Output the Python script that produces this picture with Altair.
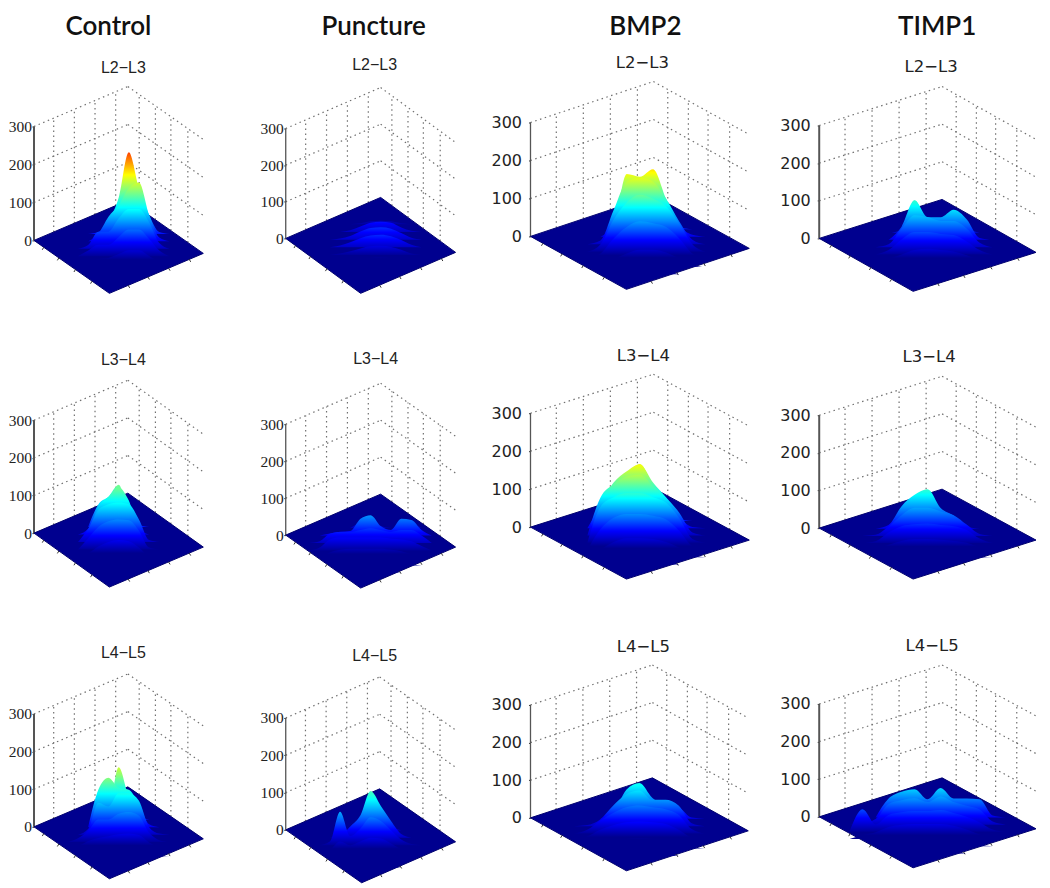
import altair as alt
import pandas as pd

GROUPS = ["Control", "Puncture", "BMP2", "TIMP1"]
LEVELS = ["L2−L3", "L3−L4", "L4−L5"]
Z_TICKS = [0, 100, 200, 300]
COLOR_MAX = 320

# position across the floor (fraction of its width) and depth (back to front)
ACROSS = [0.20, 0.26, 0.32, 0.38, 0.44, 0.50, 0.56, 0.62, 0.68, 0.74, 0.80]
DEPTH = [0.28, 0.36, 0.44, 0.52, 0.60, 0.68, 0.76, 0.84]

# Heights read from each surface: one row per depth, one value per ACROSS entry
CONTROL_L23 = [
    [0,0,0,0,0,5,10,10,5,0,0],
    [0,0,0,5,35,95,215,120,50,5,0],
    [0,0,0,20,65,95,140,155,70,10,0],
    [0,0,10,45,45,80,105,105,70,15,0],
    [0,0,15,30,30,50,70,70,45,15,0],
    [0,0,5,12,15,25,35,35,20,5,0],
    [0,0,0,3,5,8,12,12,5,0,0],
    [0,0,0,0,0,0,0,0,0,0,0],
]
CONTROL_L34 = [
    [0,0,0,0,0,0,5,0,0,0,0],
    [0,0,0,60,80,112,35,5,0,0,0],
    [0,0,15,75,100,125,90,15,0,0,0],
    [0,0,35,85,100,105,100,60,5,0,0],
    [0,0,30,60,75,80,78,50,5,0,0],
    [0,0,10,28,40,45,42,25,3,0,0],
    [0,0,0,6,12,14,12,5,0,0,0],
    [0,0,0,0,0,0,0,0,0,0,0],
]
CONTROL_L45 = [
    [0,0,0,0,0,0,0,0,0,0,0],
    [0,0,0,0,20,140,60,10,0,0,0],
    [0,0,0,100,132,105,100,60,8,0,0],
    [0,0,15,85,75,110,110,90,20,3,0],
    [0,10,30,60,60,75,80,70,25,5,0],
    [0,8,22,30,35,40,42,38,18,5,0],
    [0,0,6,10,12,15,15,12,6,2,0],
    [0,0,0,0,0,0,0,0,0,0,0],
]
PUNCTURE_L23 = [
    [0,0,0,0,3,8,10,8,3,0,0],
    [0,0,0,5,15,25,28,25,12,3,0],
    [0,0,3,10,22,32,34,30,18,5,0],
    [0,0,5,14,25,32,34,30,20,7,0],
    [0,0,4,10,18,24,25,22,14,4,0],
    [0,0,0,5,9,13,14,12,7,2,0],
    [0,0,0,0,3,5,5,4,2,0,0],
    [0,0,0,0,0,0,0,0,0,0,0],
]
PUNCTURE_L34 = [
    [0,0,0,0,0,0,0,0,0,0,0],
    [0,0,0,0,15,25,5,0,0,10,0],
    [0,5,10,12,45,55,25,15,45,42,15],
    [5,25,30,30,35,40,35,30,35,35,20],
    [8,30,35,35,35,35,35,32,30,25,12],
    [0,15,22,25,25,25,25,22,18,10,3],
    [0,0,8,10,12,12,12,10,6,3,0],
    [0,0,0,2,3,4,4,3,0,0,0],
]
PUNCTURE_L45 = [
    [0,0,0,0,0,0,0,0,0,0,0],
    [0,0,0,0,0,5,3,0,0,0,0],
    [0,0,0,0,15,60,40,5,0,0,0],
    [0,0,5,30,60,125,85,45,10,0,0],
    [0,10,90,25,45,75,65,40,15,3,0],
    [0,8,30,20,30,40,38,25,10,3,0],
    [0,0,10,10,15,18,18,12,5,0,0],
    [0,0,0,3,5,6,6,4,0,0,0],
]
BMP2_L23 = [
    [0,0,0,0,0,5,10,5,0,0,0],
    [0,0,0,0,40,90,110,40,5,0,0],
    [0,0,0,30,165,158,178,100,30,5,0],
    [0,0,10,90,165,175,165,120,60,12,0],
    [0,0,20,85,130,150,140,120,75,20,0],
    [0,0,15,55,85,100,95,85,55,15,0],
    [0,0,5,20,35,45,45,38,22,5,0],
    [0,0,0,3,8,12,12,8,0,0,0],
]
BMP2_L34 = [
    [0,0,0,0,10,20,15,5,0,0,0],
    [0,0,0,50,120,150,90,40,5,0,0],
    [0,0,60,120,150,168,120,80,30,3,0],
    [0,0,100,135,155,160,130,100,60,8,0],
    [0,0,95,120,130,130,120,105,65,10,0],
    [0,0,55,85,95,95,90,80,50,10,0],
    [0,0,20,40,50,50,48,40,25,5,0],
    [0,0,0,10,15,16,15,10,0,0,0],
]
BMP2_L45 = [
    [0,0,0,0,0,0,0,0,0,0,0],
    [0,0,0,0,30,55,10,0,0,0,0],
    [0,0,0,15,77,95,55,35,30,3,0],
    [0,3,18,55,85,95,70,70,55,8,0],
    [0,10,35,55,70,75,70,65,50,12,0],
    [0,12,30,42,50,52,50,45,30,8,0],
    [0,0,14,20,25,27,25,22,12,3,0],
    [0,0,0,5,8,8,8,6,0,0,0],
]
TIMP1_L23 = [
    [0,0,0,0,0,0,0,0,0,0,0],
    [0,0,0,5,85,25,15,60,10,0,0],
    [0,0,0,35,105,60,60,80,55,5,0],
    [0,0,8,50,85,80,70,70,50,12,0],
    [0,0,12,40,60,60,55,52,35,12,0],
    [0,0,8,20,32,35,32,28,18,6,0],
    [0,0,0,5,10,12,12,9,4,0,0],
    [0,0,0,0,0,0,0,0,0,0,0],
]
TIMP1_L34 = [
    [0,0,0,0,0,0,0,0,0,0,0],
    [0,0,0,0,35,80,10,0,0,0,0],
    [0,0,10,60,90,105,55,35,5,0,0],
    [0,3,25,55,75,75,65,55,30,5,0],
    [0,5,28,45,50,52,48,45,35,12,0],
    [0,2,15,25,30,30,28,25,20,8,0],
    [0,0,5,8,12,12,12,10,6,2,0],
    [0,0,0,0,0,0,0,0,0,0,0],
]
TIMP1_L45 = [
    [0,0,0,0,0,0,0,0,0,0,0],
    [0,0,0,10,20,15,30,5,0,0,0],
    [0,0,50,68,75,48,78,50,50,48,5],
    [3,15,55,65,70,60,75,60,50,40,8],
    [60,20,45,52,55,55,58,50,40,25,6],
    [10,18,32,38,40,40,40,35,25,12,3],
    [0,0,14,18,20,20,18,15,8,3,0],
    [0,0,0,4,5,5,5,3,0,0,0],
]
SURFACES = [
    [CONTROL_L23, PUNCTURE_L23, BMP2_L23, TIMP1_L23],
    [CONTROL_L34, PUNCTURE_L34, BMP2_L34, TIMP1_L34],
    [CONTROL_L45, PUNCTURE_L45, BMP2_L45, TIMP1_L45],
]

# ---- layout of the figure (page pixels) ----
COL_LEFT = [33.5, 285, 530, 819]
COL_WIDTH = [251.5, 245, 289, 223]
ROW_TOP = [78, 370, 663]
ROW_HEIGHT = [292, 293, 222]
# floor corners per panel: left y, right x, right y, front x, front y, y of z=300
CORNERS = [
    [(240, 203, 253, 109, 293, 126), (238, 455, 252, 360, 293, 128), (236, 749, 248, 626, 289, 122), (238, 1036, 252, 913, 291, 125)],
    [(533, 203, 547, 109, 587, 420), (535, 455, 547, 360, 588, 424), (527, 749, 540, 626, 579, 413), (528, 1036, 540, 913, 579, 415)],
    [(827, 203, 839, 109, 879, 714), (830, 455, 842, 361, 883, 718), (818, 748, 831, 626, 871, 705), (817, 1036, 829, 913, 868, 704)],
]
TITLE_CENTER = [[123, 374, 642, 931], [123, 375, 643, 929], [123, 374, 643, 932]]
TITLE_BASE = [[72, 69, 67, 71], [365, 364, 361, 362], [658, 661, 652, 651]]
HEAD_CENTER = [108, 373, 645, 937]
HEAD_BASE = 34
LEFT_WALL = [0.21, 0.43, 0.65, 0.87]
RIGHT_WALL = [0.15, 0.365, 0.57, 0.795]
EDGE_LEFT = [0.13, 0.33, 0.55, 0.77]
EDGE_RIGHT = [0.2, 0.41, 0.63, 0.85]
COLOR_ORIGIN = 0.62   # depth on the floor where the colour ramp starts
COLOR_SHARE = 0.3     # how far the ramp follows each ridge's own base
COLOR_LIFT = 0.6      # largest lift of a ridge's colours, as a share of its peak

JET = [(0.0, (0, 0, 143)), (0.125, (0, 0, 255)), (0.375, (0, 255, 255)),
       (0.625, (255, 255, 0)), (0.875, (255, 0, 0)), (1.0, (128, 0, 0))]


def jet_at(t):
    t = min(max(t, 0), 1)
    for (a, ca), (b, cb) in zip(JET, JET[1:]):
        if t <= b:
            f = (t - a) / (b - a)
            return tuple(round(x + (y - x) * f) for x, y in zip(ca, cb))
    return JET[-1][1]


def rgb(c):
    return "rgb(%d,%d,%d)" % c


def gradient_for(peak, shift):
    """Vertical jet ramp of a ridge whose box spans 0..peak; colour value = h - shift."""
    stops = [alt.GradientStop(color=rgb(jet_at(-shift / COLOR_MAX)), offset=0)]
    for t, c in JET:
        h = t * COLOR_MAX + shift
        if 0 < h < peak:
            stops.append(alt.GradientStop(color=rgb(c), offset=h / peak))
    stops.append(alt.GradientStop(color=rgb(jet_at((peak - shift) / COLOR_MAX)), offset=1))
    return alt.Gradient(gradient="linear", x1=0, x2=0, y1=1, y2=0, stops=stops)


def panel(r, c):
    left, width = COL_LEFT[c], COL_WIDTH[c]
    top_px, height = ROW_TOP[r], ROW_HEIGHT[r]
    ly, rx, ry, fx, fy, y300 = CORNERS[r][c]
    lx = left
    bx, by = lx + rx - fx, ly + ry - fy
    per_px = 300 / (ly - y300)
    to_z = lambda y: (ly - y) * per_px
    xs = alt.Scale(domain=[0, width], nice=False, zero=False)
    ys = alt.Scale(domain=[to_z(top_px + height), to_z(top_px)], nice=False, zero=False)
    narrow = c < 2
    yaxis = alt.Axis(
        values=Z_TICKS, title=None, grid=False, domain=False, tickSize=2, tickColor="#333",
        labelFont="Liberation Sans Narrow" if narrow else "DejaVu Sans",
        labelFontSize=15.5 if narrow else 16, labelColor="#222",
        labelPadding=0.5 if narrow else 7, format="d",
    )
    X = lambda f="x": alt.X(f + ":Q", scale=xs, axis=None)
    Y = lambda f: alt.Y(f + ":Q", scale=ys, axis=yaxis)

    # walls
    walls = []
    def seg(x, y, x2, y2):
        walls.append({"x": x - lx, "x2": x2 - lx, "y": to_z(y), "y2": to_z(y2)})
    for z in Z_TICKS[1:]:
        dz = z / per_px
        seg(lx, ly - dz, bx, by - dz)
        seg(bx, by - dz, rx, ry - dz)
    top = 300 / per_px
    for t in LEFT_WALL:
        x, y = lx + (bx - lx) * t, ly + (by - ly) * t
        seg(x, y, x, y - top)
    for t in RIGHT_WALL:
        x, y = bx + (rx - bx) * t, by + (ry - by) * t
        seg(x, y, x, y - top)
    wall_layer = alt.Chart(pd.DataFrame(walls)).mark_rule(
        strokeDash=[1.5, 3.5], color="#707070", strokeWidth=1.2
    ).encode(x=X(), x2="x2:Q", y=Y("y"), y2="y2:Q")

    axis_line = alt.Chart(pd.DataFrame({"x": [0], "y": [0], "y2": [300]})).mark_rule(
        color="#555", strokeWidth=2 if c in (0, 3) else 1.3
    ).encode(x=X(), y=Y("y"), y2="y2:Q")

    # floor
    def on(a, b, x):
        return a[1] + (b[1] - a[1]) * (x - a[0]) / (b[0] - a[0])
    L, B, R, F = (lx, ly), (bx, by), (rx, ry), (fx, fy)
    floor = pd.DataFrame([
        {"x": x - lx, "top": to_z(t), "bot": to_z(b)}
        for x, t, b in [(lx, ly, ly), (fx, on(L, B, fx), fy), (bx, by, on(F, R, bx)), (rx, ry, ry)]
    ])
    floor_layer = alt.Chart(floor).mark_area(color="#00008f", stroke="#00006e", strokeWidth=1).encode(
        x=X(), y=Y("top"), y2="bot:Q"
    )

    # little ticks along the two front edges
    ticks = []
    for t in EDGE_LEFT:
        x, y = lx + (fx - lx) * t, ly + (fy - ly) * t
        ticks.append({"x": x - lx, "x2": x - lx - 1.5, "y": to_z(y), "y2": to_z(y + 2.5)})
    for t in EDGE_RIGHT:
        x, y = fx + (rx - fx) * t, fy + (ry - fy) * t
        ticks.append({"x": x - lx, "x2": x - lx + 1.5, "y": to_z(y), "y2": to_z(y + 2.5)})
    tick_layer = alt.Chart(pd.DataFrame(ticks)).mark_rule(color="#333", strokeWidth=1).encode(
        x=X(), x2="x2:Q", y=Y("y"), y2="y2:Q"
    )

    layers = [wall_layer, axis_line, floor_layer, tick_layer]

    # surface: ridges painted back to front
    w = rx - lx
    origin_px = by + (fy - by) * COLOR_ORIGIN
    for d, row in zip(DEPTH, SURFACES[r][c]):
        peak = max(row)
        if peak <= 0:
            continue
        base_px = by + (fy - by) * d
        base = to_z(base_px)
        us = [ACROSS[0] - 0.06] + ACROSS + [ACROSS[-1] + 0.06]
        hs = [0] + row + [0]
        nz = [i for i, h in enumerate(hs) if h > 0]
        lo, hi = nz[0] - 1, nz[-1] + 1
        df = pd.DataFrame({
            "x": [u * w for u in us[lo:hi + 1]],
            "top": [base + h for h in hs[lo:hi + 1]],
            "base": [base] * (hi - lo + 1),
        })
        shift = max((1 - COLOR_SHARE) * (base_px - origin_px) * per_px, -COLOR_LIFT * peak)
        layers.append(
            alt.Chart(df).mark_area(interpolate="monotone", color=gradient_for(peak, shift)).encode(
                x=X(), y=Y("top"), y2="base:Q"
            )
        )

    # level label, and the group name over the top row
    layers.append(
        alt.Chart(pd.DataFrame({"t": [LEVELS[r]]})).mark_text(
            font="Liberation Sans" if narrow else "DejaVu Sans", fontSize=16 if narrow else 16.5,
            color="#222", baseline="alphabetic", align="center",
        ).encode(text="t:N", x=alt.value(TITLE_CENTER[r][c] - left), y=alt.value(TITLE_BASE[r][c] - top_px))
    )
    if r == 0:
        layers.append(
            alt.Chart(pd.DataFrame({"t": [GROUPS[c]]})).mark_text(
                font="Lato", fontSize=26, fontWeight=600, color="#111", baseline="alphabetic", align="center"
            ).encode(text="t:N", x=alt.value(HEAD_CENTER[c] - left), y=alt.value(HEAD_BASE - top_px))
        )

    return alt.layer(*layers).properties(width=width, height=height)


panels = [panel(r, c) for r in range(3) for c in range(4)]
chart = alt.concat(*panels, columns=4, spacing=0, bounds="flush", align="each").properties(
    padding={"left": 0, "top": 5.2, "right": 0, "bottom": 0}, background="white"
).configure_view(stroke=None)

chart.save("out.html", embed_options={"renderer": "svg", "actions": False})
